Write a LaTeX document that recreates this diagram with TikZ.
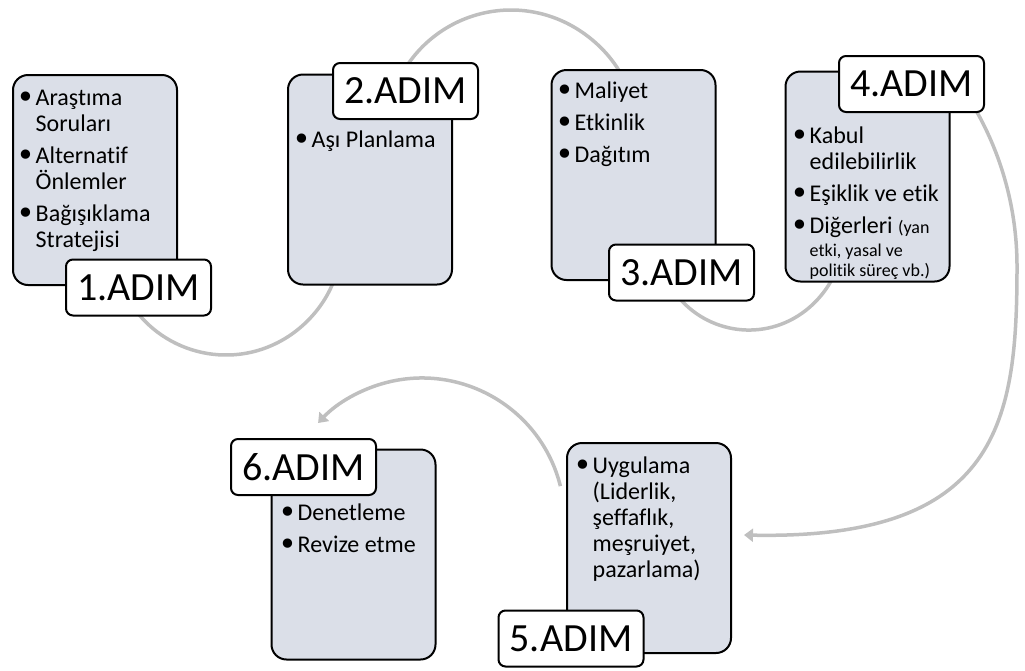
\documentclass[tikz,border=0pt]{standalone}
\usepackage{fontspec}
\setmainfont{Carlito}[Ligatures=NoCommon]
\newfontfamily\bulfont{DejaVu Sans}
\usetikzlibrary{arrows.meta}
\definecolor{boxfill}{RGB}{219,223,232}
\definecolor{arcgray}{RGB}{191,191,191}
\newcommand{\bul}{\makebox[16pt][r]{\raisebox{-3pt}{\bulfont\fontsize{32}{26}\selectfont •}}}
\newcommand{\ind}{\hspace*{16pt}}
\newcommand{\bodyfont}{\fontsize{24}{26}\selectfont}
\newcommand{\smallfnt}{\fontsize{18}{20}\selectfont}
\begin{document}
\begin{tikzpicture}[x=1pt,y=-1pt,
  box/.style={draw=black, line width=2pt, fill=boxfill, rounded corners=15pt,
    minimum width=164pt, minimum height=210pt, inner sep=0pt},
  lbl/.style={draw=black, line width=2pt, fill=white, rounded corners=7pt,
    minimum width=145pt, minimum height=56pt, inner sep=0pt,
    font=\fontsize{40}{44}\selectfont},
  conn/.style={draw=arcgray, line width=3.5pt},
  arrowend/.style={-{Triangle[length=9pt,width=13pt]}},
  txt/.style={anchor=base west, inner sep=0pt}]
\useasboundingbox (0,0) rectangle (1025,670);

% arc start / end points
\coordinate (a1s) at (127.3,298);
\coordinate (a2s) at (397.7,82.2);
\coordinate (a3s) at (673.6,290.8);
\coordinate (a4s) at (959.6,84.3);
\coordinate (a4e) at (744,535);
\coordinate (a5s) at (560.4,486.1);

% connectors (behind the boxes)
\draw[conn,arrowend] (a1s) arc[start angle=150, end angle=5, radius=114];
\draw[conn,arrowend] (a2s) arc[start angle=-155, end angle=-15, radius=125];
\draw[conn,arrowend] (a3s) arc[start angle=145, end angle=10, radius=92];
\draw[conn,arrowend] (a4s) arc[start angle=-35, end angle=0, radius=317.4]
   .. controls (1017,420) and (1000,540) .. (a4e);
\draw[conn,arrowend] (a5s) arc[start angle=-14, end angle=-136.8, radius=142.6];

% boxes
\node[box] (b1) at (95,180) {};
\node[box] (b2) at (370,179.5) {};
\node[box] (b3) at (633.5,175) {};
\node[box] (b4) at (867.5,176.5) {};
\node[box] (b5) at (649,548) {};
\node[box] (b6) at (353.5,554.5) {};

% box texts
\node[txt] (t1) at (19.5,105) {\parbox[t]{160pt}{\bodyfont\raggedright
  \bul Araştıma\\ \ind Soruları\\[6pt]
  \bul Alternatif\\ \ind Önlemler\\[6pt]
  \bul Bağışıklama\\ \ind Stratejisi}};
\node[txt] (t2) at (295.5,147) {\parbox[t]{160pt}{\bodyfont\raggedright
  \bul Aşı Planlama}};
\node[txt] (t3) at (558.5,98) {\parbox[t]{160pt}{\bodyfont\raggedright
  \bul Maliyet\\[6pt] \bul Etkinlik\\[6pt] \bul Dağıtım}};
\node[txt] (t4) at (793.5,143) {\parbox[t]{160pt}{\bodyfont\raggedright
  \bul Kabul\\ \ind edilebilirlik\\[6pt]
  \bul Eşiklik ve etik\\[6pt]
  \bul Diğerleri {\smallfnt (yan}\\[-3pt]
  \ind{\smallfnt etki, yasal ve}\\[-6pt]
  \ind{\smallfnt politik süreç vb.)}}};
\node[txt] (t5) at (576.5,473) {\parbox[t]{160pt}{\bodyfont\raggedright
  \bul Uygulama\\ \ind(Liderlik,\\ \ind şeffaflık,\\ \ind meşruiyet,\\ \ind pazarlama)}};
\node[txt] (t6) at (281.5,520) {\parbox[t]{160pt}{\bodyfont\raggedright
  \bul Denetleme\\[6pt] \bul Revize etme}};

% step labels
\node[lbl] (l1) at (138.5,287.5) {1.ADIM};
\node[lbl] (l2) at (405.5,91) {2.ADIM};
\node[lbl] (l3) at (681.5,272.5) {3.ADIM};
\node[lbl] (l4) at (911.5,84) {4.ADIM};
\node[lbl] (l5) at (571,638.5) {5.ADIM};
\node[lbl] (l6) at (303.5,467) {6.ADIM};
\end{tikzpicture}
\end{document}
